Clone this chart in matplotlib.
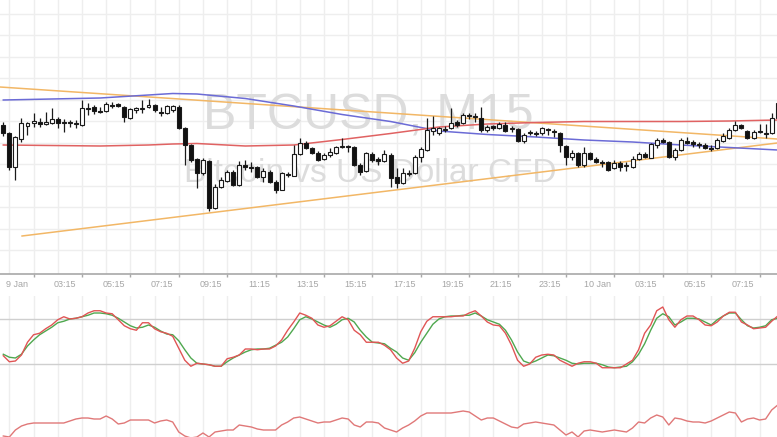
import matplotlib
matplotlib.use('Agg')
import matplotlib.pyplot as plt
import numpy as np

# ---------------- data (BTCUSD M15) ----------------
opens = [875, 867, 833, 861, 874, 877, 878, 876, 877, 881, 878, 878, 877, 875, 891.5, 893, 889, 889, 895, 896,
         893, 882, 890, 891.5, 893, 895, 888, 887, 890, 893, 872, 855, 841, 827, 839, 792, 813, 819, 828, 815,
         835, 833, 833, 823, 828, 818, 810, 826.5, 824, 846, 857, 852, 847, 841, 845, 847, 853.5, 854, 853, 835,
         829, 846, 841, 839, 845, 823, 817, 826.5, 827, 843, 850, 869, 867, 870.5, 872, 878, 877, 885, 884, 882,
         870, 874, 872, 875, 871.5, 871, 859, 867, 867, 867, 871, 869, 867, 854, 843, 847, 835, 847, 841, 838,
         838, 832, 837, 835, 833, 841, 846, 842, 855, 860, 858, 843, 850, 859, 858, 856, 855, 852, 852, 859,
         862, 870, 875, 869, 862, 869, 867, 867, 882]
highs = [878, 868, 864, 882, 878, 887, 882, 888, 892, 883, 881, 880, 880, 900, 897, 895, 893, 898, 898, 897,
         894, 892, 893, 900, 901, 896, 893, 895, 895, 895, 873, 856, 842, 842, 840, 816, 823, 830, 830, 839,
         840, 838, 834, 832, 830, 820, 828, 828, 855, 862, 859, 853, 849, 847, 852, 854, 862, 855, 854, 837,
         848, 848, 843, 850, 847, 832, 832, 830, 845, 853, 882, 884, 873, 874, 892, 880, 887, 887, 887, 893,
         875, 875, 878, 878, 874, 872, 867, 870, 869, 873, 872, 871, 868, 855, 850, 848, 853, 848, 843, 840,
         839, 840, 839, 838, 844, 848, 848, 857, 862, 862, 859, 852, 862, 863, 860, 858, 857, 855, 862, 867,
         872, 879, 876, 870, 870, 876, 876, 887, 903]
lows = [864, 830, 820, 858, 865, 873, 873, 875, 876, 872, 868, 873, 872, 874, 885, 886, 887, 888, 892, 893,
        878, 881, 887, 887, 892, 888, 884, 886, 888, 871, 835, 838, 812, 825, 789, 791, 812, 818, 814, 814,
        830, 828, 822, 818, 817, 807, 810, 823, 824, 845, 851, 846, 839, 840, 843, 846, 852, 848, 834, 825,
        828, 838, 835, 838, 813, 812, 816, 824, 826, 838, 849, 865, 865, 868, 871, 873, 876, 881, 878, 868,
        868, 870, 871, 868, 868, 858, 857, 865, 864, 865, 865, 863, 848, 835, 840, 833, 833, 840, 837, 833,
        829, 831, 829, 829, 832, 840, 842, 842, 852, 857, 842, 840, 849, 856, 853, 852, 851, 849, 851, 858,
        861, 869, 871, 861, 861, 867, 862, 866, 882]
closes = [867, 833, 863, 877, 877, 879, 876, 878, 881, 877, 877, 877.5, 876.5, 892, 892, 889, 888.5, 896, 894.5, 894,
          883, 891, 892, 892, 895, 890, 887.5, 894, 894, 872, 855, 840, 827, 840, 792, 813, 820, 828, 815, 835,
          833.5, 832.5, 823, 829, 818, 810, 827, 825.5, 846, 857, 852, 847, 840, 845, 848, 853, 854, 853, 835, 828,
          847, 840, 839, 846, 822, 817, 827, 827, 843, 851, 870, 872, 872, 871, 877, 875, 885, 884.5, 883.5, 870,
          873, 872, 876, 869, 872, 859, 865, 868, 866.5, 872, 870, 868.5, 855, 843, 847, 835, 847, 841, 838, 837.5,
          830, 837, 833, 834.5, 841, 846, 843, 856, 860, 858, 843, 850, 860, 857, 856, 855.5, 852, 851.5, 860, 864,
          870, 875, 872, 862, 868, 868, 866.5, 882, 897]

ma_idx = [0, 8, 16, 24, 28, 32, 40, 48, 56, 64, 72, 80, 88, 96, 104, 112, 120, 128]
ma_blue = [900, 901, 902, 905, 906.5, 906, 901.5, 894, 885.5, 878.5, 869, 865.5, 863, 860, 858, 855, 852.5, 850]
ma_red = [855, 854.5, 854, 855, 856, 856.5, 854, 855, 860.5, 866.5, 873, 876, 877.5, 878.5, 878.5, 878.5, 879, 880]

trend_upper_idx = [-0.55, 127.9]
trend_upper = [913, 861]
trend_lower_idx = [3.1, 127.9]
trend_lower = [764, 857]

stoch_k = [31, 23, 24, 32, 49, 59, 61, 67, 72, 79, 83, 80, 81, 83, 88, 91, 91, 88, 87, 79,
           71, 67, 65, 75, 75, 67, 63, 61, 57, 41, 25, 17, 21, 20, 19, 17, 17, 27, 29, 32,
           40, 40, 39, 40, 40, 44, 52, 65, 76, 88, 85, 81, 72, 69, 71, 77, 83, 79, 65, 59,
           49, 49, 49, 45, 39, 28, 21, 24, 41, 63, 77, 83, 83, 83, 83, 84, 84, 88, 91, 84,
           76, 72, 71, 61, 45, 25, 17, 20, 29, 32, 33, 32, 25, 21, 17, 21, 23, 23, 21, 15,
           15, 15, 15, 20, 25, 39, 61, 72, 91, 96, 79, 69, 79, 84, 84, 79, 72, 71, 76, 84,
           89, 89, 76, 72, 67, 68, 69, 77, 84]
stoch_d = [33, 29, 28, 33, 44, 52, 59, 64, 69, 75, 77, 80, 81, 83, 85, 88, 88, 87, 85, 81,
           76, 71, 68, 69, 72, 69, 64, 60, 59, 51, 39, 28, 21, 20, 19, 17, 17, 23, 28, 32,
           36, 39, 40, 40, 41, 45, 49, 56, 67, 79, 83, 80, 76, 72, 69, 73, 79, 81, 76, 65,
           56, 49, 48, 47, 41, 36, 28, 25, 35, 49, 61, 73, 80, 83, 84, 84, 85, 85, 88, 84,
           79, 76, 73, 65, 52, 36, 24, 21, 24, 28, 32, 31, 28, 25, 21, 20, 21, 21, 21, 19,
           16, 15, 16, 17, 23, 33, 47, 65, 81, 87, 83, 72, 76, 81, 81, 80, 76, 72, 79, 84,
           88, 88, 79, 71, 68, 69, 71, 79, 81]
stoch_levels = [80, 20]

rsi = [44, 43, 50, 54, 56, 57, 57, 57, 57, 57, 57, 59, 61, 62, 62, 61, 61, 64, 61, 56,
       57, 60, 60, 60, 60, 57, 59, 60, 58, 48, 44, 42, 43, 47, 43, 48, 49, 50, 50, 55,
       54, 53, 51, 50, 50, 50, 55, 58, 62, 63, 61, 59, 57, 58, 58, 60, 62, 61, 55, 53,
       58, 58, 57, 52, 50, 48, 52, 55, 59, 64, 67, 67, 67, 67, 67, 68, 69, 68, 64, 60,
       62, 62, 59, 56, 53, 52, 56, 57, 58, 57, 56, 55, 50, 45, 48, 43, 49, 50, 49, 48,
       49, 50, 49, 48, 52, 58, 57, 62, 65, 63, 55, 62, 61, 59, 58, 58, 57, 59, 62, 65,
       68, 67, 58, 61, 62, 60, 61, 70, 75]

tick_labels = ["9 Jan", "03:15", "05:15", "07:15", "09:15", "11:15", "13:15", "15:15",
               "17:15", "19:15", "21:15", "23:15", "10 Jan", "03:15", "05:15", "07:15"]

# ---------------- figure ----------------
W, H = 777, 437
plt.rcParams['font.family'] = ['Liberation Sans', 'DejaVu Sans']
fig = plt.figure(figsize=(W / 100, H / 100), dpi=100, facecolor='white')

def rect(top, bottom):
    return [0, 1 - bottom / H, 1, (bottom - top) / H]

ax = fig.add_axes(rect(0, 274))
ax_st = fig.add_axes(rect(296, 390))
ax_rsi = fig.add_axes(rect(390, 437))

XMIN, XMAX = -0.545, 127.88
n = len(opens)
idx = np.arange(n)

grid_c = '#eeeeee'
vgrid = np.arange(1, 130, 4)
for a in (ax, ax_st, ax_rsi):
    a.set_facecolor('none')
    a.set_xlim(XMIN, XMAX)
    for s in a.spines.values():
        s.set_visible(False)
    a.set_yticks([])
    for gx in vgrid:
        a.axvline(gx, color=grid_c, lw=1, zorder=0)

# main panel
ax.set_ylim(726, 1000)
for gy in np.arange(750, 1000, 21.5):
    ax.axhline(gy, color=grid_c, lw=1, zorder=0)

ax.text(0.474, 1 - 117 / 274, "BTCUSD, M15", transform=ax.transAxes, ha='center', va='center',
        fontsize=36, color='#dcdcdc', zorder=1)
ax.text(0.476, 1 - 174 / 274, "Bitcoin vs US Dollar CFD", transform=ax.transAxes, ha='center',
        va='center', fontsize=24, color='#dcdcdc', zorder=1)

ax.plot(trend_upper_idx, trend_upper, color='#f2b766', lw=1.1, zorder=2)
ax.plot(trend_lower_idx, trend_lower, color='#f2b766', lw=1.1, zorder=2)
ax.plot(ma_idx, ma_blue, color='#6b6bd6', lw=1.1, zorder=2)
ax.plot(ma_idx, ma_red, color='#e06262', lw=1.1, zorder=2)

o = np.array(opens, float); c = np.array(closes, float)
hi = np.array(highs, float); lo = np.array(lows, float)
ax.vlines(idx, lo, hi, color='#1a1a1a', lw=0.9, zorder=3)
bottoms = np.minimum(o, c)
heights = np.maximum(np.abs(c - o), 0.9)
colors = np.where(c >= o, 'white', '#111111')
ax.bar(idx, heights, bottom=bottoms, width=0.66, color=colors, edgecolor='#1a1a1a',
       linewidth=0.8, zorder=4)

ax.spines['bottom'].set_visible(True)
ax.spines['bottom'].set_color('#a8a8a8')
ax.spines['bottom'].set_linewidth(1.2)
label_pos = 2.25 + 8 * np.arange(len(tick_labels))
ax.set_xticks(label_pos)
ax.set_xticklabels(tick_labels)
ax.tick_params(axis='x', which='major', length=0, pad=4, labelsize=6.5, labelcolor='#a5a5a5')
ax.set_xticks(5 + 8 * np.arange(16), minor=True)
ax.tick_params(axis='x', which='minor', length=2.5, width=1, color='#a8a8a8', direction='out')

# stochastic panel
ax_st.set_ylim(-14.67, 110.67)
for lv in stoch_levels:
    ax_st.axhline(lv, color='#cfcfcf', lw=1, zorder=1)
ax_st.plot(idx, stoch_d, color='#4fa84f', lw=1.0, zorder=2)
ax_st.plot(idx, stoch_k, color='#e05555', lw=1.0, zorder=3)
ax_st.set_xticks([])

# RSI panel
ax_rsi.set_ylim(43, 90)
ax_rsi.plot(idx, rsi, color='#e07878', lw=1.0, zorder=2)
ax_rsi.set_xticks([])

fig.savefig('out.png', dpi=100, facecolor='white')
